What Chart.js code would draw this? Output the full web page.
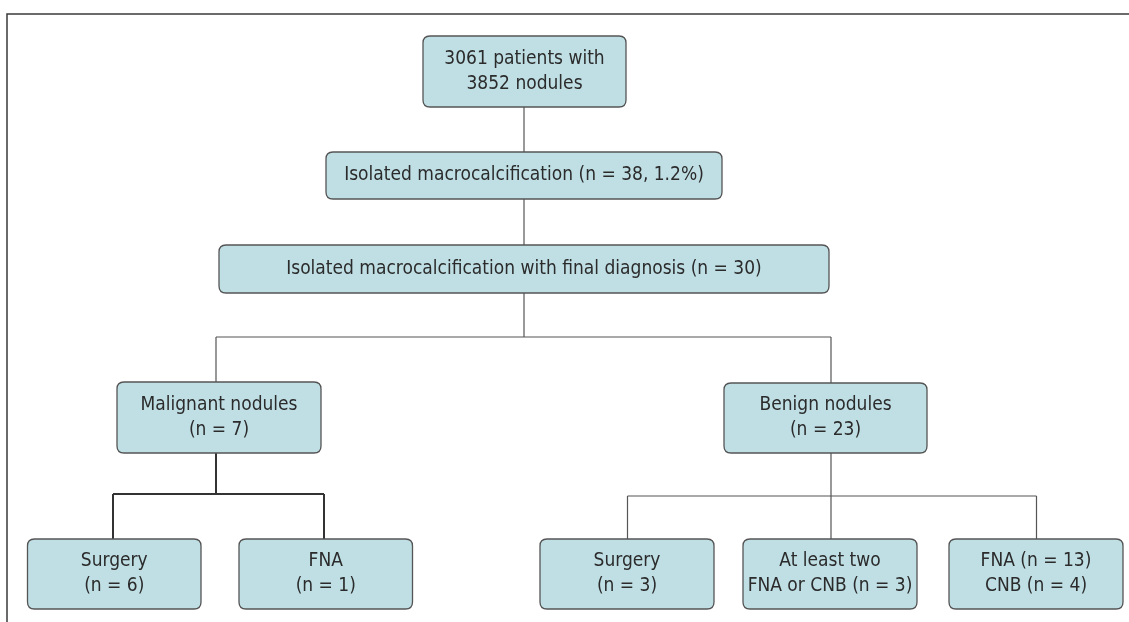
<!DOCTYPE html>
<html>
<head>
<meta charset="utf-8">
<script src="https://cdn.jsdelivr.net/npm/chart.js@4"></script>
<style>
  html, body { margin: 0; padding: 0; background: #fff; }
  #wrap { width: 1129px; height: 622px; }
</style>
</head>
<body>
<div id="wrap"><canvas id="flow" width="1129" height="622"></canvas></div>
<script>
// Counts
const patients = 3061;
const nodules = 3852;
const macroN = 38;
const macroPct = 1.2;
const finalN = 30;
const groupNames = ["Malignant nodules", "Benign nodules"];
const groupN = [7, 23];
const malignantSteps = ["Surgery", "FNA"];
const malignantN = [6, 1];
const benignSteps = ["Surgery", "At least two FNA or CNB", "FNA", "CNB"];
const benignN = [3, 3, 13, 4];

// Box text, one array per line
const nodeText = [
  [patients + " patients with", nodules + " nodules"],
  ["Isolated macrocalcification (n = " + macroN + ", " + macroPct + "%)"],
  ["Isolated macrocalcification with final diagnosis (n = " + finalN + ")"],
  [groupNames[0], "(n = " + groupN[0] + ")"],
  [groupNames[1], "(n = " + groupN[1] + ")"],
  [malignantSteps[0], "(n = " + malignantN[0] + ")"],
  [malignantSteps[1], "(n = " + malignantN[1] + ")"],
  [benignSteps[0], "(n = " + benignN[0] + ")"],
  ["At least two", "FNA or CNB (n = " + benignN[1] + ")"],
  [benignSteps[2] + " (n = " + benignN[2] + ")", benignSteps[3] + " (n = " + benignN[3] + ")"]
];

// Layout in axis units (x 0..1129, y 0..622 from the top)
const boxLeft  = [423, 326, 219, 117, 724, 27.5, 239, 540, 743, 949];
const boxRight = [626, 722, 829, 321, 927, 201, 412.5, 714, 917, 1123];
const boxTop   = [36, 152, 245, 382, 383, 539, 539, 539, 539, 539];
const boxBot   = [107, 199, 293, 453, 453, 609, 609, 609, 609, 609];

// Connectors: parent, children, bus level, stem x, drop x's
const links = [
  { from: 0, to: [1], bus: null, stem: 524, drops: [524] },
  { from: 1, to: [2], bus: null, stem: 524, drops: [524] },
  { from: 2, to: [3, 4], bus: 337, stem: 524, drops: [216, 831] },
  { from: 3, to: [5, 6], bus: 494, stem: 216, drops: [113, 324], heavy: true },
  { from: 4, to: [7, 8, 9], bus: 496, stem: 831, drops: [627.5, 831, 1036.5] }
];

const fontFamily = "'Liberation Sans Narrow', 'DejaVu Sans Condensed', 'Roboto', sans-serif";

function roundRect(ctx, x, y, w, h, r) {
  ctx.beginPath();
  ctx.moveTo(x + r, y);
  ctx.lineTo(x + w - r, y);
  ctx.quadraticCurveTo(x + w, y, x + w, y + r);
  ctx.lineTo(x + w, y + h - r);
  ctx.quadraticCurveTo(x + w, y + h, x + w - r, y + h);
  ctx.lineTo(x + r, y + h);
  ctx.quadraticCurveTo(x, y + h, x, y + h - r);
  ctx.lineTo(x, y + r);
  ctx.quadraticCurveTo(x, y, x + r, y);
  ctx.closePath();
}

const flowPlugin = {
  id: "flow",
  afterDatasetsDraw(chart) {
    const ctx = chart.ctx;
    const xs = chart.scales.x, ys = chart.scales.y;
    const px = v => xs.getPixelForValue(v);
    const py = v => ys.getPixelForValue(v);
    ctx.save();

    // frame lines
    ctx.strokeStyle = "#3a3a3a";
    ctx.lineWidth = 1.5;
    ctx.beginPath();
    ctx.moveTo(px(7), py(622));
    ctx.lineTo(px(7), py(14));
    ctx.lineTo(px(1129), py(14));
    ctx.stroke();

    // connectors
    links.forEach(l => {
      ctx.strokeStyle = l.heavy ? "#333" : "#555";
      ctx.lineWidth = l.heavy ? 2 : 1.2;
      ctx.beginPath();
      if (l.bus === null) {
        ctx.moveTo(px(l.stem), py(boxBot[l.from]));
        ctx.lineTo(px(l.stem), py(boxTop[l.to[0]]));
      } else {
        ctx.moveTo(px(l.stem), py(boxBot[l.from]));
        ctx.lineTo(px(l.stem), py(l.bus));
        ctx.moveTo(px(Math.min(...l.drops)), py(l.bus));
        ctx.lineTo(px(Math.max(...l.drops)), py(l.bus));
        l.drops.forEach((d, i) => {
          ctx.moveTo(px(d), py(l.bus));
          ctx.lineTo(px(d), py(boxTop[l.to[i]]));
        });
      }
      ctx.stroke();
    });

    // boxes
    nodeText.forEach((lines, i) => {
      const x0 = px(boxLeft[i]), x1 = px(boxRight[i]);
      const y0 = py(boxTop[i]), y1 = py(boxBot[i]);
      roundRect(ctx, x0, y0, x1 - x0, y1 - y0, 7);
      ctx.fillStyle = "#bfdfe5";
      ctx.fill();
      ctx.strokeStyle = "#555";
      ctx.lineWidth = 1.3;
      ctx.stroke();

      ctx.fillStyle = "#2b2b2b";
      ctx.font = "19px " + fontFamily;
      ctx.textAlign = "center";
      ctx.textBaseline = "middle";
      const cx = (x0 + x1) / 2, cy = (y0 + y1) / 2;
      const gap = 25;
      lines.forEach((t, k) => {
        ctx.fillText(t, cx, cy + (k - (lines.length - 1) / 2) * gap);
      });
    });
    ctx.restore();
  }
};

// invisible anchor points at box centres so the scales carry the layout
const centres = nodeText.map((_, i) => ({
  x: (boxLeft[i] + boxRight[i]) / 2,
  y: (boxTop[i] + boxBot[i]) / 2
}));

new Chart(document.getElementById("flow").getContext("2d"), {
  type: "scatter",
  data: {
    datasets: [{ data: centres, pointRadius: 0, showLine: false }]
  },
  options: {
    responsive: false,
    animation: false,
    layout: { padding: 0 },
    plugins: { legend: { display: false }, tooltip: { enabled: false } },
    scales: {
      x: { type: "linear", min: 0, max: 1129, display: false },
      y: { type: "linear", min: 0, max: 622, reverse: true, display: false }
    }
  },
  plugins: [flowPlugin]
});
</script>
</body>
</html>
